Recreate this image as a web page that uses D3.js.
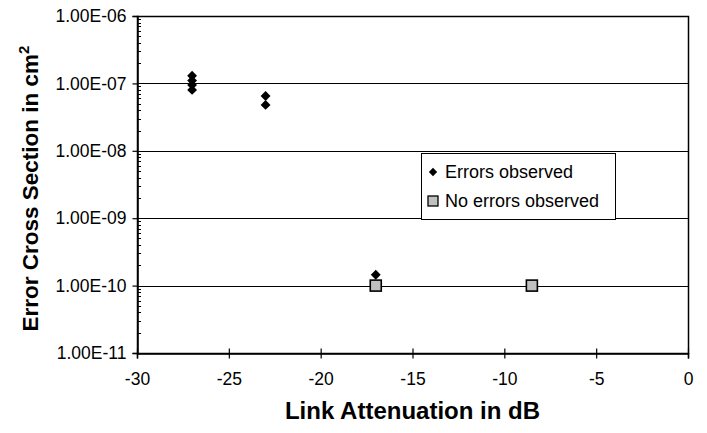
<!doctype html>
<html lang="en">
<head>
  <meta charset="utf-8">
  <title>Error cross section</title>
  <style>
    body { margin: 0; background: #fff; }
    svg { font-family: "Liberation Sans", Arial, sans-serif; }
    .tick text { font-size: 17.5px; fill: #000; }
    .title { font-weight: bold; }
  </style>
</head>
<body>
  <div id="chart"></div>
  <script src="https://cdn.jsdelivr.net/npm/d3@7"></script>
  <script>
(function(){

  // errors observed (diamonds)
  var errX = [-27, -27, -27, -27, -23, -23, -17];
  var errY = [1.3e-7, 1.1e-7, 9.5e-8, 8e-8, 6.5e-8, 4.8e-8, 1.45e-10];
  // no errors observed (squares)
  var noX = [-17, -8.5];
  var noY = [1e-10, 1e-10];

  var xTicks = [-30, -25, -20, -15, -10, -5, 0];
  var yTicks = [1e-11, 1e-10, 1e-9, 1e-8, 1e-7, 1e-6];
  var yLabels = ["1.00E-11", "1.00E-10", "1.00E-09", "1.00E-08", "1.00E-07", "1.00E-06"];
  var legendNames = ["Errors observed", "No errors observed"];

  var width = 707, height = 433;
  var left = 137, right = 688, top = 16, bottom = 353;

  var x = d3.scaleLinear().domain([-30, 0]).range([left, right]);
  var y = d3.scaleLog().domain([1e-11, 1e-6]).range([bottom, top]);

  var svg = d3.select("#chart").append("svg")
      .attr("width", width)
      .attr("height", height);

  // gridlines
  svg.append("g").selectAll("line")
      .data(yTicks.slice(1, -1))
    .enter().append("line")
      .attr("x1", left).attr("x2", right)
      .attr("y1", d => Math.round(y(d)) + 0.5)
      .attr("y2", d => Math.round(y(d)) + 0.5)
      .attr("stroke", "#000").attr("stroke-width", 1);

  // frame
  svg.append("rect")
      .attr("x", left + 0.5).attr("y", top + 0.5)
      .attr("width", right - left).attr("height", bottom - top)
      .attr("fill", "none").attr("stroke", "#000").attr("stroke-width", 1.5);

  // minor ticks on y axis (inside)
  var minors = [];
  yTicks.slice(0, -1).forEach(function(t) {
    for (var k = 2; k <= 9; k++) minors.push(t * k);
  });
  svg.append("g").selectAll("line")
      .data(minors)
    .enter().append("line")
      .attr("x1", left).attr("x2", left + 4)
      .attr("y1", d => Math.round(y(d)) + 0.5)
      .attr("y2", d => Math.round(y(d)) + 0.5)
      .attr("stroke", "#000");

  // y axis
  var yAxis = d3.axisLeft(y)
      .tickValues(yTicks)
      .tickFormat((d, i) => yLabels[i])
      .tickSize(5)
      .tickPadding(6);
  var gy = svg.append("g")
      .attr("transform", "translate(" + (left + 0.5) + ",0)")
      .call(yAxis);
  gy.select(".domain").attr("stroke-width", 1.5);
  gy.selectAll(".tick line").attr("stroke-width", 1.2);
  gy.selectAll(".tick text").attr("font-family", "Liberation Sans, Arial, sans-serif");

  // x axis (plain hyphen, not unicode minus)
  var xAxis = d3.axisBottom(x)
      .tickValues(xTicks)
      .tickFormat(d => String(d))
      .tickSize(5)
      .tickPadding(14);
  var gx = svg.append("g")
      .attr("transform", "translate(0," + (bottom + 0.5) + ")")
      .call(xAxis);
  gx.select(".domain").attr("stroke-width", 1.5);
  gx.selectAll(".tick line").attr("y1", -5).attr("stroke-width", 1.2);
  gx.selectAll(".tick text").attr("font-family", "Liberation Sans, Arial, sans-serif");

  // points
  var diamond = d3.symbol().type(d3.symbolDiamond2).size(62);
  var errPts = errX.map((v, i) => [v, errY[i]]);
  var noPts = noX.map((v, i) => [v, noY[i]]);

  svg.append("g").selectAll("path")
      .data(errPts)
    .enter().append("path")
      .attr("d", diamond)
      .attr("transform", d => "translate(" + x(d[0]) + "," + y(d[1]) + ")")
      .attr("fill", "#000");

  svg.append("g").selectAll("rect")
      .data(noPts)
    .enter().append("rect")
      .attr("x", d => x(d[0]) - 5.5).attr("y", d => y(d[1]) - 5.5)
      .attr("width", 11).attr("height", 11)
      .attr("fill", "#c0c0c0").attr("stroke", "#000").attr("stroke-width", 1.6);

  // legend
  var lg = svg.append("g").attr("transform", "translate(421,153)");
  lg.append("rect")
      .attr("x", 0.5).attr("y", 0.5)
      .attr("width", 194).attr("height", 66)
      .attr("fill", "#fff").attr("stroke", "#000").attr("stroke-width", 1);
  lg.append("path")
      .attr("d", d3.symbol().type(d3.symbolDiamond2).size(44))
      .attr("transform", "translate(12,19)")
      .attr("fill", "#000");
  lg.append("rect")
      .attr("x", 7).attr("y", 43)
      .attr("width", 10).attr("height", 10)
      .attr("fill", "#c0c0c0").attr("stroke", "#000").attr("stroke-width", 1.3);
  lg.selectAll("text")
      .data(legendNames)
    .enter().append("text")
      .attr("x", 24)
      .attr("y", (d, i) => 25 + i * 29)
      .attr("font-size", 18)
      .text(d => d);

  // axis titles
  svg.append("text")
      .attr("class", "title")
      .attr("font-size", 24)
      .attr("x", (left + right) / 2).attr("y", 419)
      .attr("text-anchor", "middle")
      .text("Link Attenuation in dB");

  var yt = svg.append("text")
      .attr("class", "title")
      .attr("font-size", 22.5)
      .attr("transform", "translate(38," + ((top + bottom) / 2 + 4) + ") rotate(-90)")
      .attr("text-anchor", "middle");
  yt.append("tspan").text("Error Cross Section in cm");
  yt.append("tspan").attr("dy", -9).attr("font-size", 15).text("2");

})();
  </script>
</body>
</html>
